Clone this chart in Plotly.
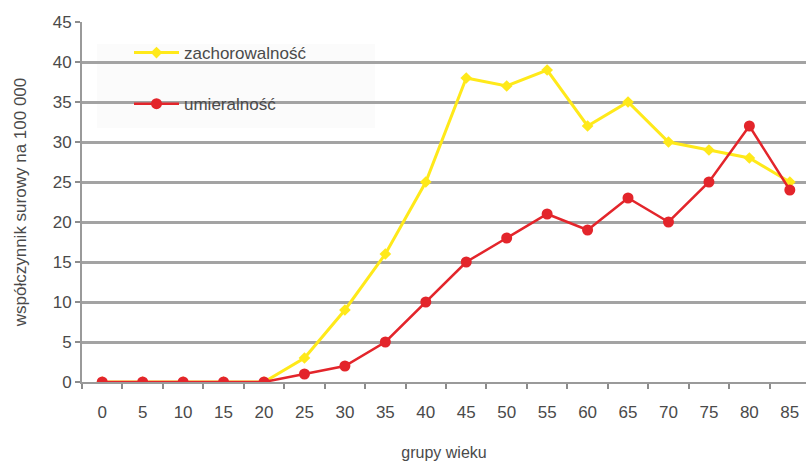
import plotly.graph_objects as go

# Age groups (start of each 5-year band)
age_groups = ["0", "5", "10", "15", "20", "25", "30", "35", "40",
              "45", "50", "55", "60", "65", "70", "75", "80", "85"]

# Crude rates per 100 000
incidence = [0, 0, 0, 0, 0, 3, 9, 16, 25, 38, 37, 39, 32, 35, 30, 29, 28, 25]
mortality = [0, 0, 0, 0, 0, 1, 2, 5, 10, 15, 18, 21, 19, 23, 20, 25, 32, 24]

y_ticks = [0, 5, 10, 15, 20, 25, 30, 35, 40, 45]

FONT = "Liberation Sans, Arial, sans-serif"
TEXT = "#4a4a4a"
GRID = "#a3a3a3"

fig = go.Figure()

fig.add_trace(go.Scatter(
    x=age_groups, y=incidence, name="zachorowalność",
    mode="lines+markers",
    line=dict(color="#ffe91a", width=3),
    marker=dict(symbol="diamond", size=9, color="#ffe91a"),
    legendgroup="a",
))
fig.add_trace(go.Scatter(
    x=age_groups, y=mortality, name="umieralność",
    mode="lines+markers",
    line=dict(color="#e3252b", width=2.5),
    marker=dict(symbol="circle", size=11, color="#e3252b"),
    legendgroup="b",
))

# light panel behind the legend, above the gridlines
fig.add_shape(type="rect", xref="paper", yref="paper",
              x0=(97 - 82) / 724, x1=(375 - 82) / 724,
              y0=(382 - 128) / 360, y1=(382 - 44) / 360,
              fillcolor="#fbfbfb", line=dict(width=0), layer="between")

fig.update_layout(
    width=806, height=461,
    margin=dict(l=82, r=0, t=22, b=79),
    paper_bgcolor="white", plot_bgcolor="white",
    font=dict(family=FONT, size=17, color=TEXT),
    showlegend=True,
    legend=dict(
        x=(129 - 82) / 724, y=(382 - 35) / 360,
        xanchor="left", yanchor="top",
        bgcolor="rgba(0,0,0,0)",
        traceorder="grouped", tracegroupgap=26,
        itemwidth=45,
        font=dict(family=FONT, size=17, color=TEXT),
    ),
    xaxis=dict(
        type="category",
        range=[-0.5, 17.4],
        tickson="boundaries",
        ticks="outside", ticklen=5, tickwidth=1.5, tickcolor="#8c8c8c",
        ticklabelstandoff=14,
        showgrid=False,
        showline=True, linecolor="#9a9a9a", linewidth=2,
        title=dict(text="grupy wieku", standoff=25,
                   font=dict(family=FONT, size=16, color=TEXT)),
        tickfont=dict(family=FONT, size=17, color=TEXT),
    ),
    yaxis=dict(
        range=[0, 45],
        tickvals=y_ticks,
        ticks="outside", ticklen=5, tickwidth=1.5, tickcolor="#8c8c8c",
        showgrid=True, gridcolor=GRID, gridwidth=2.5,
        zeroline=False,
        showline=True, linecolor="#9a9a9a", linewidth=2,
        title=dict(text="współczynnik surowy na 100 000", standoff=22,
                   font=dict(family=FONT, size=17, color=TEXT)),
        tickfont=dict(family=FONT, size=17, color=TEXT),
    ),
)

fig.write_html("out.html")
